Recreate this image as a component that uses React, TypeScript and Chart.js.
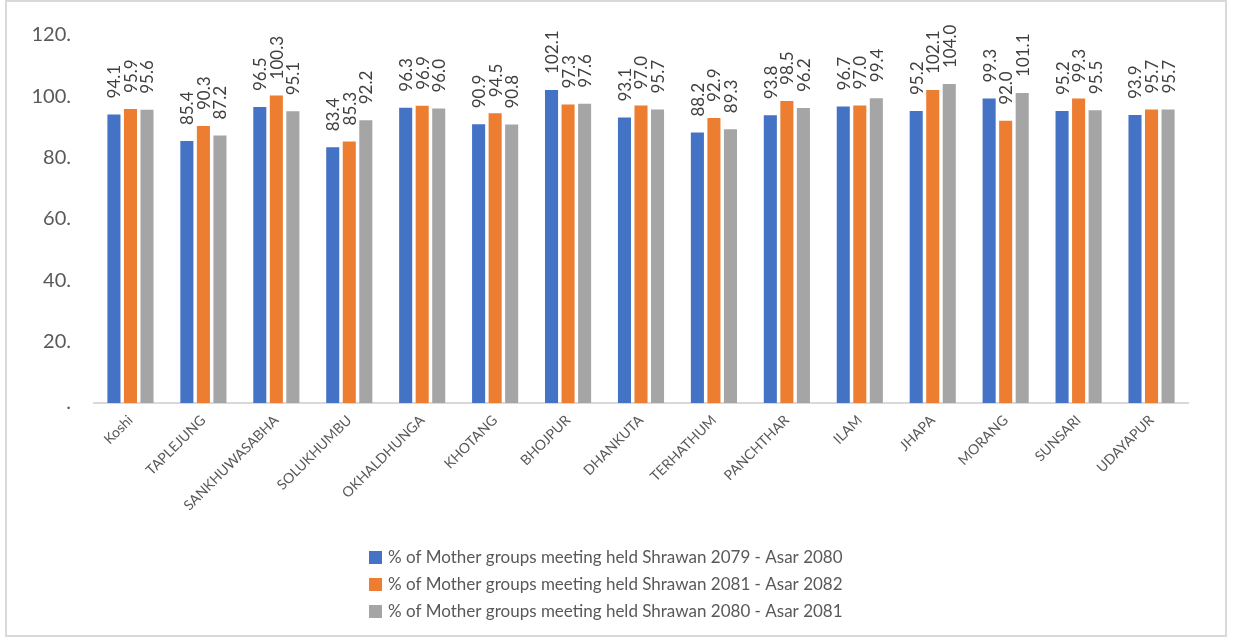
import React, { useEffect, useRef } from "react";
import { Chart, registerables } from "chart.js";

Chart.register(...registerables);

const categories = [
  "Koshi", "TAPLEJUNG", "SANKHUWASABHA", "SOLUKHUMBU", "OKHALDHUNGA", "KHOTANG",
  "BHOJPUR", "DHANKUTA", "TERHATHUM", "PANCHTHAR", "ILAM", "JHAPA", "MORANG",
  "SUNSARI", "UDAYAPUR",
];

const series2079 = [94.1, 85.4, 96.5, 83.4, 96.3, 90.9, 102.1, 93.1, 88.2, 93.8, 96.7, 95.2, 99.3, 95.2, 93.9];
const series2081 = [95.9, 90.3, 100.3, 85.3, 96.9, 94.5, 97.3, 97.0, 92.9, 98.5, 97.0, 102.1, 92.0, 99.3, 95.7];
const series2080 = [95.6, 87.2, 95.1, 92.2, 96.0, 90.8, 97.6, 95.7, 89.3, 96.2, 99.4, 104.0, 101.1, 95.5, 95.7];

const seriesLabels = [
  "% of Mother groups meeting held Shrawan 2079 - Asar 2080",
  "% of Mother groups meeting held Shrawan 2081 - Asar 2082",
  "% of Mother groups meeting held Shrawan 2080 - Asar 2081",
];

const yTickValues = [0, 20, 40, 60, 80, 100, 120];
const yTickLabels = [".", "20.", "40.", "60.", "80.", "100.", "120."];

const COLORS = ["#4472C4", "#ED7D31", "#A5A5A5"];
const FONT = "Lato, 'Noto Sans', sans-serif";
const TEXT = "#595959";

const frameAndLegend = {
  id: "frameAndLegend",
  beforeDraw(chart: any) {
    const ctx = chart.ctx;
    ctx.save();
    ctx.fillStyle = "#ffffff";
    ctx.fillRect(0, 0, chart.width, chart.height);
    ctx.strokeStyle = "#d9d9d9";
    ctx.lineWidth = 2;
    ctx.strokeRect(6, 1, 1220, 635);
    ctx.restore();
  },
  afterDraw(chart: any) {
    const ctx = chart.ctx;
    const area = chart.chartArea;
    ctx.save();
    ctx.font = `17px ${FONT}`;
    ctx.textBaseline = "middle";
    ctx.textAlign = "left";
    const left = area.left + 275;
    chart.data.datasets.forEach((ds: any, i: number) => {
      const y = area.bottom + 155 + i * 27;
      ctx.fillStyle = ds.backgroundColor;
      ctx.fillRect(left, y - 7, 13, 13);
      ctx.fillStyle = TEXT;
      ctx.fillText(ds.label, left + 19, y);
    });
    ctx.restore();
  },
};

const barLabels = {
  id: "barLabels",
  afterDatasetsDraw(chart: any) {
    const ctx = chart.ctx;
    ctx.save();
    ctx.font = `17px ${FONT}`;
    ctx.fillStyle = "#404040";
    ctx.textAlign = "left";
    ctx.textBaseline = "middle";
    chart.data.datasets.forEach((ds: any, di: number) => {
      const meta = chart.getDatasetMeta(di);
      meta.data.forEach((bar: any, i: number) => {
        const v = ds.data[i] as number;
        ctx.save();
        ctx.translate(bar.x + 1, bar.y - 16);
        ctx.rotate(-Math.PI / 2);
        ctx.fillText(v.toFixed(1), 0, 0);
        ctx.restore();
      });
    });
    ctx.restore();
  },
};

export default function App() {
  const ref = useRef<HTMLCanvasElement | null>(null);
  useEffect(() => {
    if (!ref.current) return;
    const data = [series2079, series2081, series2080];
    const chart = new Chart(ref.current, {
      type: "bar",
      data: {
        labels: categories,
        datasets: data.map((d, i) => ({
          label: seriesLabels[i],
          data: d,
          backgroundColor: COLORS[i],
          borderWidth: 0,
          categoryPercentage: 0.68,
          barPercentage: 0.79,
        })),
      },
      options: {
        responsive: false,
        animation: false,
        layout: { padding: { left: 6, right: 49, top: 31, bottom: 126 } },
        plugins: {
          legend: { display: false },
          tooltip: { enabled: false },
        },
        scales: {
          x: {
            grid: { display: false, drawTicks: false },
            border: { display: true, color: "#d9d9d9", width: 2 },
            ticks: {
              color: TEXT,
              font: { family: FONT, size: 14 },
              maxRotation: 45,
              minRotation: 45,
              autoSkip: false,
              padding: 9,
            },
            afterFit(scale: any) {
              scale.height = 110;
            },
          },
          y: {
            min: 0,
            max: 120,
            grid: { display: false, drawTicks: false },
            border: { display: false },
            afterBuildTicks(scale: any) {
              scale.ticks = yTickValues.map((v) => ({ value: v }));
            },
            ticks: {
              color: TEXT,
              font: { family: FONT, size: 20 },
              padding: 23,
              callback(value: any) {
                const idx = yTickValues.indexOf(Number(value));
                return idx >= 0 ? yTickLabels[idx] : "";
              },
            },
            afterFit(scale: any) {
              scale.width = 88;
            },
          },
        },
      },
      plugins: [frameAndLegend, barLabels],
    });
    return () => chart.destroy();
  }, []);
  return (
    <div style={{ position: "absolute", left: 0, top: 0, width: 1237, height: 639, background: "#fff" }}>
      <canvas ref={ref} width={1237} height={639} style={{ display: "block" }} />
    </div>
  );
}
